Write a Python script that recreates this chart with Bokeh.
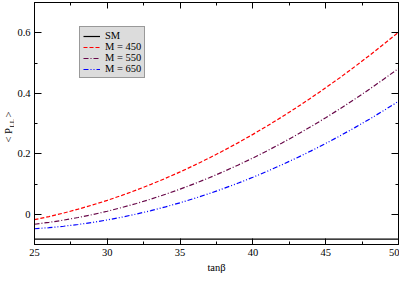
from bokeh.plotting import figure
from bokeh.layouts import row
from bokeh.models import (Range1d, FixedTicker, LinearAxis, CustomJSTickFormatter,
                          Label, Legend)
from bokeh.embed import file_html
from bokeh.resources import INLINE
from math import pi

tanb = [25, 26, 27, 28, 29, 30, 31, 32, 33, 34, 35, 36, 37, 38, 39, 40,
        41, 42, 43, 44, 45, 46, 47, 48, 49, 50]
sm = [-0.082] * len(tanb)
m450 = [-0.018, -0.0076, 0.004, 0.0168, 0.0308, 0.046, 0.0624, 0.080, 0.0988,
        0.1188, 0.140, 0.1624, 0.186, 0.2108, 0.2368, 0.264, 0.2924, 0.322,
        0.3528, 0.3848, 0.418, 0.4524, 0.488, 0.5248, 0.5628, 0.602]
m550 = [-0.033, -0.0268, -0.0194, -0.0108, -0.001, 0.010, 0.0222, 0.0356,
        0.0502, 0.066, 0.083, 0.1012, 0.1206, 0.1412, 0.163, 0.186, 0.2102,
        0.2356, 0.2622, 0.290, 0.319, 0.3492, 0.3806, 0.4132, 0.447, 0.482]
m650 = [-0.048, -0.0444, -0.0396, -0.0338, -0.0268, -0.0188, -0.0096, 0.0007,
        0.012, 0.0245, 0.038, 0.0527, 0.0684, 0.0853, 0.1032, 0.1223, 0.1424,
        0.1637, 0.186, 0.2095, 0.234, 0.2597, 0.2864, 0.3143, 0.3432, 0.3733]

x_major = [25, 30, 35, 40, 45, 50]
x_minor = [27.5, 32.5, 37.5, 42.5, 47.5]
y_major = [0, 0.2, 0.4, 0.6]
y_minor = [0.1, 0.3, 0.5]

FONT = "Liberation Serif"
H = 275
LW = 14

p = figure(width=399 - LW, height=H, output_backend="svg", toolbar_location=None,
           x_range=Range1d(25, 50), y_range=Range1d(-0.1, 0.7),
           x_axis_location=None, y_axis_location=None,
           min_border_left=10, min_border_right=1, min_border_top=2,
           min_border_bottom=8)
p.grid.visible = False
p.background_fill_color = "white"
p.border_fill_color = "white"
p.outline_line_color = "black"
p.outline_line_width = 1

fmt = CustomJSTickFormatter(code="return tick == 0 ? '0' : tick.toFixed(1);")
blank = CustomJSTickFormatter(code="return '';")

def style(ax, labels=True, major_in=6, minor_in=3):
    ax.axis_line_color = "black"
    ax.major_tick_line_color = "black"
    ax.minor_tick_line_color = "black"
    ax.major_tick_in = major_in
    ax.major_tick_out = 0
    ax.minor_tick_in = minor_in
    ax.minor_tick_out = 0
    ax.major_label_text_font = FONT
    ax.major_label_text_font_size = "10.5px"
    ax.major_label_text_color = "black"
    if not labels:
        ax.formatter = blank
        ax.major_label_standoff = 0

xb = LinearAxis(ticker=FixedTicker(ticks=x_major, minor_ticks=x_minor),
                axis_label="tanβ")
style(xb)
xb.major_label_standoff = 4
xb.axis_label_text_font = FONT
xb.axis_label_text_font_style = "normal"
xb.axis_label_text_font_size = "10.5px"
xb.axis_label_text_color = "black"
xb.axis_label_standoff = 3
p.add_layout(xb, "below")

xt = LinearAxis(ticker=FixedTicker(ticks=x_major, minor_ticks=x_minor))
style(xt, labels=False)
p.add_layout(xt, "above")

yl = LinearAxis(ticker=FixedTicker(ticks=y_major, minor_ticks=y_minor),
                formatter=fmt)
style(yl, major_in=7, minor_in=3)
yl.major_label_standoff = 4
p.add_layout(yl, "left")

yr = LinearAxis(ticker=FixedTicker(ticks=y_major, minor_ticks=y_minor))
style(yr, labels=False, major_in=7, minor_in=3)
p.add_layout(yr, "right")

r_sm = p.line(tanb, sm, line_color="black", line_width=1.2)
r1 = p.line(tanb, m450, line_color="#ff0000", line_width=1.2, line_dash="4 2")
r2 = p.line(tanb, m550, line_color="#670748", line_width=1.2, line_dash="5 2 1 2")
r3 = p.line(tanb, m650, line_color="#0000ff", line_width=1.2, line_dash="5 2 1 2 1 2")

leg = Legend(items=[("SM", [r_sm]), ("M = 450", [r1]), ("M = 550", [r2]),
                    ("M = 650", [r3])],
             location=(45, 166))
leg.background_fill_color = "#dcdcdc"
leg.background_fill_alpha = 1.0
leg.border_line_color = "#555555"
leg.border_line_width = 1
leg.label_text_font = FONT
leg.label_text_font_size = "10.5px"
leg.label_text_color = "black"
leg.label_height = 10
leg.glyph_height = 10
leg.glyph_width = 17
leg.spacing = 0
leg.padding = 3
leg.margin = 0
leg.label_standoff = 5
p.add_layout(leg, "center")

# narrow strip holding the rotated y-axis title: < P_LL >
q = figure(width=LW, height=H, output_backend="svg", toolbar_location=None,
           x_range=Range1d(0, LW), y_range=Range1d(0, H),
           x_axis_location=None, y_axis_location=None,
           min_border=0)
q.grid.visible = False
q.outline_line_color = None
q.border_fill_color = "white"
q.background_fill_color = "white"
common = dict(x_units="screen", y_units="screen", angle=pi / 2,
              text_font=FONT, text_color="black", text_baseline="middle",
              text_align="left")
q.add_layout(Label(x=8, y=102, text="< P", text_font_size="10.5px", **common))
q.add_layout(Label(x=11, y=117, text="LL", text_font_size="7px", **common))
q.add_layout(Label(x=8, y=127, text=">", text_font_size="10.5px", **common))

layout = row(q, p)
layout.spacing = 0
open("out.html", "w").write(file_html(layout, INLINE))
